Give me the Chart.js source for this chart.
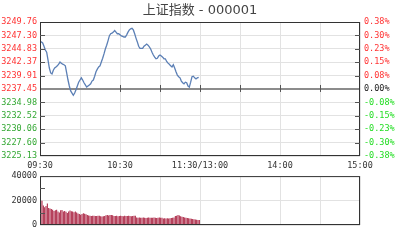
<!DOCTYPE html>
<html>
<head>
<meta charset="utf-8">
<script src="https://cdn.jsdelivr.net/npm/chart.js@4.4.1/dist/chart.umd.min.js"></script>
<style>
  html, body { margin: 0; padding: 0; background: #fff; }
  #wrap { position: relative; width: 400px; height: 240px; }
  #price { position: absolute; left: 0; top: 0; }
  #vol { position: absolute; left: 0; top: 168px; }
</style>
</head>
<body>
<div id="wrap">
  <canvas id="price" width="400" height="176"></canvas>
  <canvas id="vol" width="400" height="72"></canvas>
</div>
<script>
// minute index from 09:30 (0) to 15:00 (240)
const prevClose = 3237.45;
const priceMin = 3225.13;
const priceMax = 3249.76;

const prices = [
  3246.1, 3246.1, 3245.9, 3245.3, 3244.6, 3244.2, 3242.8, 3241.3, 3240.4, 3240.2,
  3240.9, 3241.3, 3241.5, 3241.7, 3242.0, 3242.4, 3242.2, 3242.0, 3241.9, 3241.7,
  3240.4, 3239.1, 3238.0, 3237.1, 3236.7, 3236.3, 3236.7, 3237.3, 3238.0, 3238.7,
  3239.1, 3239.5, 3239.1, 3238.6, 3238.2, 3237.8, 3238.0, 3238.2, 3238.4, 3238.9,
  3239.1, 3239.8, 3240.6, 3241.1, 3241.5, 3241.7, 3242.4, 3243.1, 3243.9, 3244.8,
  3245.5, 3246.3, 3247.2, 3247.6, 3247.7, 3247.9, 3248.2, 3247.9, 3247.6, 3247.6,
  3247.4, 3247.2, 3247.1, 3247.0, 3247.0, 3247.4, 3247.9, 3248.3, 3248.5, 3248.6,
  3248.3, 3247.6, 3246.8, 3246.1, 3245.3, 3244.9, 3244.9, 3244.9, 3245.3, 3245.5,
  3245.7, 3245.5, 3245.2, 3244.8, 3244.2, 3243.7, 3243.3, 3243.0, 3243.1, 3243.5,
  3243.7, 3243.5, 3243.3, 3243.0, 3243.0, 3242.5, 3242.2, 3242.0, 3241.7, 3241.5,
  3241.9, 3241.3, 3240.6, 3240.0, 3239.7, 3239.5, 3238.9, 3238.6, 3238.4, 3238.7,
  3238.6, 3238.0, 3237.8, 3238.7, 3239.7, 3239.8, 3239.5, 3239.3, 3239.5, 3239.6
];

const volumes = [
  20000, 19800, 16000, 14500, 15500, 17500, 14000, 13500, 13000, 12500,
  11500, 12000, 12500, 11000, 10200, 12000, 12200, 11000, 11500, 10800,
  9800, 11000, 11800, 11200, 11000, 10500, 11000, 10200, 9400, 9000,
  8400, 9000, 9600, 9200, 8800, 8200, 7800, 7600, 7400, 7500,
  7600, 7400, 7300, 7500, 7600, 7200, 7000, 7200, 7400, 8000,
  8200, 7800, 8100, 8200, 8000, 7400, 7300, 7500, 7200, 7400,
  7600, 7300, 7200, 7500, 7400, 7300, 7600, 7400, 7200, 7300,
  7500, 7600, 6200, 6000, 6100, 5900, 6000, 6200, 6000, 5800,
  6000, 6100, 6000, 5900, 6000, 6200, 6000, 5800, 6000, 6100,
  5900, 6000, 5400, 5500, 5300, 5600, 5400, 5600, 5800, 6000,
  6200, 7300, 7600, 8200, 7800, 7200, 6800, 6600, 6200, 6000,
  5800, 5600, 5400, 5200, 5000, 4800, 4400, 4200, 4000, 4000
];

const priceTickLabels = ['3225.13', '3227.60', '3230.06', '3232.52', '3234.98', '3237.45',
  '3239.91', '3242.37', '3244.83', '3247.30', '3249.76'];
const pctTickLabels = ['-0.38%', '-0.30%', '-0.23%', '-0.15%', '-0.08%', '0.00%',
  '0.08%', '0.15%', '0.23%', '0.30%', '0.38%'];
const timeTicks = [0, 30, 60, 90, 120, 150, 180, 210, 240];
const timeLabels = { 0: '09:30', 60: '10:30', 120: '11:30/13:00', 180: '14:00', 240: '15:00' };
const volTicks = [0, 20000, 40000];

Chart.defaults.font.family = "'DejaVu Sans Mono', monospace";
Chart.defaults.font.size = 8.5;
Chart.defaults.animation = false;

const pctMax = (priceMax / prevClose - 1) * 100;

// border round the plot + small inner tick marks
const frame = {
  id: 'frame',
  afterDraw(chart, args, opts) {
    const { ctx, chartArea: a } = chart;
    ctx.save();
    ctx.strokeStyle = '#333';
    ctx.lineWidth = 1;
    ctx.strokeRect(a.left + 0.5, a.top + 0.5, a.right - a.left - 1, a.bottom - a.top - 1);
    ctx.strokeStyle = '#555';
    ctx.beginPath();
    (opts.leftTicks || []).forEach(v => {
      const y = Math.round(chart.scales.y.getPixelForValue(v)) + 0.5;
      ctx.moveTo(a.left, y); ctx.lineTo(a.left + 5, y);
    });
    (opts.rightTicks || []).forEach(v => {
      const y = Math.round(chart.scales.y.getPixelForValue(v)) + 0.5;
      ctx.moveTo(a.right - 5, y); ctx.lineTo(a.right, y);
    });
    if (opts.midTicks) {
      const y0 = chart.scales.y.getPixelForValue(prevClose);
      opts.midTicks.forEach(t => {
        const x = Math.round(chart.scales.x.getPixelForValue(t)) + 0.5;
        ctx.moveTo(x, y0 - 4); ctx.lineTo(x, y0 + 3);
      });
    }
    ctx.stroke();
    ctx.restore();
  }
};

const innerPriceTicks = priceTickLabels.slice(1, -1).map(Number).filter(v => v !== prevClose);

new Chart(document.getElementById('price'), {
  type: 'line',
  data: {
    datasets: [{
      data: prices.map((p, i) => ({ x: i, y: p })),
      borderColor: '#5b7fb5',
      borderWidth: 1.3,
      pointRadius: 0,
      tension: 0
    }]
  },
  options: {
    responsive: false,
    layout: { padding: 0 },
    plugins: {
      legend: { display: false },
      tooltip: { enabled: false },
      title: {
        display: true,
        text: '上证指数 - 000001',
        color: '#444',
        font: { family: "'DejaVu Sans', 'Noto Sans CJK SC', sans-serif", size: 13, weight: 'normal', lineHeight: 1.2 },
        padding: { top: 3, bottom: 3.4 }
      },
      frame: { leftTicks: innerPriceTicks, rightTicks: innerPriceTicks, midTicks: [60, 90, 120, 150, 180, 210] }
    },
    scales: {
      x: {
        type: 'linear', min: 0, max: 240, offset: false,
        afterBuildTicks: s => { s.ticks = timeTicks.map(v => ({ value: v })); },
        afterFit: s => { s.height = 20; },
        ticks: {
          color: '#333', padding: 5, maxRotation: 0, autoSkip: false,
          callback: v => timeLabels[v] || ''
        },
        grid: { color: '#e2e2e2', drawTicks: false },
        border: { display: false }
      },
      y: {
        position: 'left', min: priceMin, max: priceMax,
        afterBuildTicks: s => { s.ticks = priceTickLabels.map(t => ({ value: Number(t) })); },
        afterFit: s => { s.width = 40; },
        ticks: {
          padding: 3, autoSkip: false,
          color: c => (c.tick && c.tick.value >= prevClose - 0.001 ? '#ff3333' : '#33a833'),
          callback: (v, i) => priceTickLabels[i]
        },
        grid: {
          drawTicks: false,
          color: c => (c.tick && Math.abs(c.tick.value - prevClose) < 0.01 ? '#8c8c8c' : '#e2e2e2'),
          lineWidth: c => (c.tick && Math.abs(c.tick.value - prevClose) < 0.01 ? 2 : 1)
        },
        border: { display: false }
      },
      y1: {
        position: 'right', min: -pctMax, max: pctMax,
        afterBuildTicks: s => {
          s.ticks = pctTickLabels.map((t, i) => ({ value: -pctMax + i * pctMax / 5 }));
        },
        afterFit: s => { s.width = 40; },
        ticks: {
          padding: 4, autoSkip: false,
          color: c => {
            const v = c.tick ? c.tick.value : 0;
            if (Math.abs(v) < 0.001) return '#222';
            return v > 0 ? '#ff3333' : '#22dd22';
          },
          callback: (v, i) => pctTickLabels[i]
        },
        grid: { display: false, drawTicks: false },
        border: { display: false }
      }
    }
  },
  plugins: [frame]
});

new Chart(document.getElementById('vol'), {
  type: 'bar',
  data: {
    datasets: [{
      data: volumes.map((v, i) => ({ x: i + 0.5, y: v })),
      backgroundColor: '#a81c3c',
      barPercentage: 1,
      categoryPercentage: 0.75
    }]
  },
  options: {
    responsive: false,
    layout: { padding: { top: 8, bottom: 15, right: 40 } },
    plugins: {
      legend: { display: false },
      tooltip: { enabled: false },
      frame: { leftTicks: [10000, 30000] }
    },
    scales: {
      x: {
        type: 'linear', min: 0, max: 240, offset: false,
        afterBuildTicks: s => { s.ticks = timeTicks.map(v => ({ value: v })); },
        afterFit: s => { s.height = 0; },
        ticks: { display: false },
        grid: { color: '#e2e2e2', drawTicks: false, offset: false },
        border: { display: false }
      },
      y: {
        min: 0, max: 40000,
        afterBuildTicks: s => { s.ticks = volTicks.map(v => ({ value: v })); },
        afterFit: s => { s.width = 40; },
        ticks: { color: '#333', padding: 3, callback: v => String(v) },
        grid: { color: '#e2e2e2', drawTicks: false },
        border: { display: false }
      }
    }
  },
  plugins: [frame]
});
</script>
</body>
</html>
